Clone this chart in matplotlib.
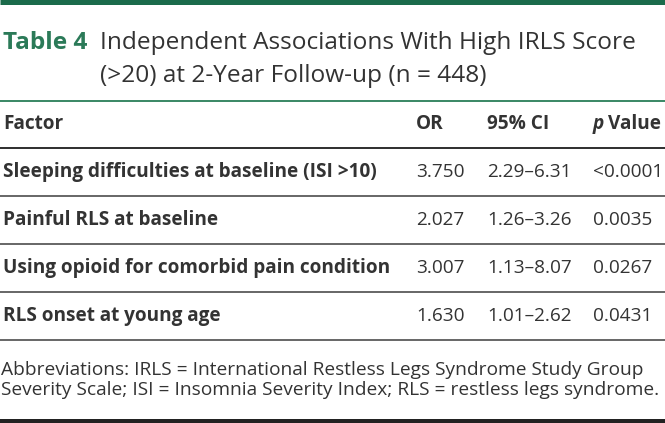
import matplotlib
matplotlib.use("Agg")
import matplotlib.pyplot as plt
from matplotlib.lines import Line2D

# ---- data ----
title_label = "Table 4"
title_lines = ["Independent Associations With High IRLS Score",
               "(>20) at 2-Year Follow-up (n = 448)"]
col_headers = ["Factor", "OR", "95% CI", "Value"]
factors = ["Sleeping difficulties at baseline (ISI >10)",
           "Painful RLS at baseline",
           "Using opioid for comorbid pain condition",
           "RLS onset at young age"]
or_values = ["3.750", "2.027", "3.007", "1.630"]
ci_values = ["2.29\u20136.31", "1.26\u20133.26", "1.13\u20138.07", "1.01\u20132.62"]
p_values = ["<0.0001", "0.0035", "0.0267", "0.0431"]
footnote = ["Abbreviations: IRLS = International Restless Legs Syndrome Study Group",
            "Severity Scale; ISI = Insomnia Severity Index; RLS = restless legs syndrome."]

W, H = 665, 423
DPI = 100
GREEN = "#1b6b4b"
TGREEN = "#2b7a58"
TXT = "#333333"
FONT = "Open Sans"

fig = plt.figure(figsize=(W / DPI, H / DPI), dpi=DPI)
fig.patch.set_facecolor("white")
renderer = fig.canvas.get_renderer()


def fx(x):
    return x / W


def fy(y):
    return 1 - y / H


def txt(x, y, s, size, **kw):
    kw.setdefault("color", TXT)
    kw.setdefault("family", FONT)
    return fig.text(fx(x), fy(y), s, fontsize=size, va="baseline", ha="left", **kw)


def fit(s, width, weight="normal", base=14):
    t = fig.text(0, 0, s, fontsize=base, family=FONT, weight=weight)
    w = t.get_window_extent(renderer).width
    t.remove()
    return base * width / w


def hline(y, x0, x1, lw, color):
    fig.add_artist(Line2D([fx(x0), fx(x1)], [fy(y), fy(y)], lw=lw, color=color,
                          transform=fig.transFigure, solid_capstyle="butt"))


# top bar
hline(2.5, 0, W, 5 * 72 / DPI, GREEN)

# title
title_size = fit(title_lines[0], 536)
txt(3, 49, title_label, title_size, weight="bold", color=TGREEN)
txt(100, 49, title_lines[0], title_size)
txt(100, 82, title_lines[1], title_size)

# green line under title
hline(101, 0, W, 2 * 72 / DPI, "#3e8a68")

# column positions
col_x = [3, 416, 487, 593]
body_size = fit(factors[0], 375, weight="bold")
num_size = body_size

# header
hdr_y = 129
txt(col_x[0], hdr_y, col_headers[0], body_size, weight="bold")
txt(col_x[1], hdr_y, col_headers[1], body_size, weight="bold")
txt(col_x[2], hdr_y, col_headers[2], body_size, weight="bold")
fig.text(fx(col_x[3]), fy(hdr_y), r"$\boldsymbol{p}$" if False else "p", fontsize=body_size,
         va="baseline", ha="left", family=FONT, weight="bold", style="italic", color=TXT)
pw = fig.texts[-1].get_window_extent(renderer).width
txt(col_x[3] + pw + 4, hdr_y, col_headers[3], body_size, weight="bold")

hline(148, 0, W, 2 * 72 / DPI, "#333333")

row_base = [177, 225, 273, 321]
line_y = [196, 244, 292, 340]
for i in range(len(factors)):
    y = row_base[i]
    txt(col_x[0], y, factors[i], body_size, weight="bold")
    txt(col_x[1], y, or_values[i], num_size)
    txt(col_x[2], y, ci_values[i], num_size)
    txt(col_x[3], y, p_values[i], num_size)
    hline(line_y[i], 0, W, 2 * 72 / DPI, "#6a6a6a")

# footnote
fn_size = fit(footnote[1], 662)
txt(1, 375, footnote[0], fn_size)
txt(1, 395, footnote[1], fn_size)

# bottom rule
hline(421, 0, W, 4 * 72 / DPI, "#222222")

fig.savefig("out.png", dpi=DPI, facecolor="white")
